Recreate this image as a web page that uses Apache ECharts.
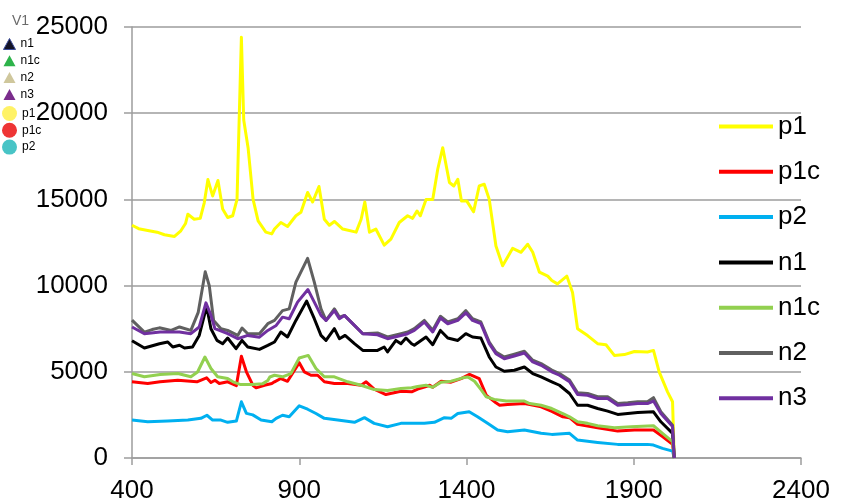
<!DOCTYPE html>
<html>
<head>
<meta charset="utf-8">
<script src="https://cdn.jsdelivr.net/npm/echarts@6/dist/echarts.min.js"></script>
<style>
html,body{margin:0;padding:0;background:#fff;}
#chart{width:842px;height:504px;}
</style>
</head>
<body>
<div id="chart"></div>
<script>
// ---- data (x = wavenumber-like axis, y = intensity) ----
const seriesNames = ['p1', 'p1c', 'p2', 'n1', 'n1c', 'n2', 'n3'];
const seriesColors = ['#FFFF00', '#FF0000', '#00B0F0', '#000000', '#92D050', '#606060', '#7030A0'];
const xTicks = [400, 900, 1400, 1900, 2400];
const yTicks = [0, 5000, 10000, 15000, 20000, 25000];

const p1 = [[400,13500],[420,13300],[447,13200],[475,13100],[497,12950],[527,12850],[546,13180],[560,13600],[567,14140],[586,13850],[604,13900],[616,14800],[627,16150],[641,15200],[657,16100],[671,14450],[686,13950],[701,14050],[714,15000],[727,24400],[734,19600],[747,18000],[762,15000],[777,13750],[800,13100],[818,13000],[826,13280],[845,13660],[865,13430],[890,14050],[905,14250],[925,15400],[940,14850],[959,15750],[975,13850],[990,13500],[1005,13720],[1030,13280],[1070,13100],[1085,13850],[1096,14850],[1110,13100],[1129,13280],[1154,12350],[1174,12700],[1199,13660],[1224,14050],[1239,13900],[1252,14330],[1262,14050],[1279,15000],[1299,15000],[1314,16750],[1329,18000],[1349,15980],[1362,15780],[1374,16170],[1385,14900],[1401,14900],[1421,14280],[1438,15780],[1453,15880],[1468,15000],[1488,12300],[1508,11150],[1538,12160],[1563,11930],[1583,12400],[1598,11930],[1618,10780],[1643,10550],[1655,10300],[1672,10100],[1700,10550],[1717,9600],[1732,7500],[1762,7100],[1792,6630],[1817,6570],[1842,5950],[1872,6000],[1902,6180],[1941,6150],[1959,6240],[1976,5000],[2001,3840],[2016,3260],[2021,0]];

const p1c = [[400,4420],[447,4320],[484,4420],[537,4510],[594,4420],[623,4650],[636,4380],[648,4510],[661,4320],[686,4420],[712,4200],[727,5900],[742,5000],[762,4200],[771,4070],[796,4220],[818,4320],[826,4420],[845,4610],[865,4450],[900,5530],[915,5000],[935,4800],[955,4800],[975,4420],[1005,4320],[1045,4320],[1085,4220],[1100,4420],[1124,3990],[1159,3680],[1204,3870],[1236,3840],[1254,4000],[1279,4150],[1290,4220],[1299,4100],[1324,4450],[1354,4400],[1384,4600],[1409,4850],[1438,4600],[1459,3650],[1488,3200],[1499,3060],[1523,3100],[1573,3160],[1589,3100],[1623,2970],[1655,2700],[1688,2390],[1708,2340],[1732,1950],[1792,1760],[1852,1560],[1902,1620],[1959,1620],[1986,1240],[2016,790],[2021,0]];

const p2 = [[400,2200],[447,2100],[507,2140],[567,2200],[606,2300],[624,2480],[641,2200],[666,2200],[686,2070],[712,2140],[727,3260],[742,2590],[761,2500],[786,2200],[818,2100],[831,2300],[850,2480],[870,2390],[900,3030],[925,2830],[950,2580],[975,2300],[1015,2200],[1065,2070],[1095,2340],[1124,2010],[1164,1815],[1204,2010],[1224,2010],[1274,2010],[1304,2070],[1334,2340],[1354,2300],[1374,2580],[1408,2680],[1433,2390],[1463,2010],[1493,1620],[1523,1520],[1573,1620],[1623,1430],[1655,1370],[1708,1430],[1732,1040],[1792,905],[1852,790],[1941,790],[1959,750],[1986,560],[2016,400],[2021,0]];

const n1 = [[400,6800],[437,6380],[482,6630],[507,6730],[522,6440],[542,6540],[557,6380],[581,6440],[601,7110],[623,8800],[636,7500],[654,6820],[671,6630],[686,6960],[711,6340],[729,6820],[746,6440],[781,6300],[806,6530],[826,6730],[845,7310],[865,7020],[890,7980],[922,9100],[945,8080],[965,7110],[980,6820],[1005,7500],[1020,6920],[1037,7110],[1065,6630],[1090,6240],[1134,6240],[1154,6440],[1164,6150],[1189,6820],[1204,6630],[1219,6960],[1236,6630],[1244,6540],[1279,7020],[1299,6570],[1322,7400],[1344,6960],[1374,6820],[1398,7210],[1418,7020],[1443,6960],[1468,5860],[1488,5280],[1513,5030],[1543,5090],[1573,5280],[1598,4900],[1623,4700],[1655,4420],[1678,4220],[1708,3740],[1732,3060],[1762,3060],[1792,2870],[1822,2720],[1852,2530],[1882,2580],[1912,2640],[1959,2680],[1981,2100],[2016,1430],[2021,0]];

const n1c = [[400,4900],[437,4710],[484,4840],[537,4900],[576,4710],[596,4990],[618,5860],[636,5190],[656,4710],[686,4610],[702,4420],[725,4260],[760,4260],[790,4300],[806,4500],[812,4700],[826,4800],[850,4710],[875,4900],[900,5800],[927,5950],[950,5190],[975,4710],[1005,4710],[1045,4420],[1085,4220],[1124,3970],[1164,3910],[1204,4030],[1236,4070],[1254,4150],[1279,4220],[1299,4100],[1324,4400],[1354,4450],[1389,4650],[1404,4700],[1424,4450],[1444,3950],[1459,3550],[1483,3400],[1519,3300],[1573,3300],[1589,3160],[1623,3060],[1655,2870],[1688,2580],[1708,2390],[1732,2100],[1762,2010],[1792,1870],[1842,1760],[1892,1815],[1959,1870],[1986,1430],[2016,950],[2021,0]];

const n2 = [[400,8000],[437,7300],[460,7450],[482,7550],[517,7400],[542,7600],[576,7400],[598,8450],[619,10800],[631,10000],[644,7980],[666,7500],[686,7400],[716,7110],[729,7540],[746,7210],[781,7210],[806,7790],[826,7980],[850,8550],[870,8650],[890,10200],[925,11580],[945,10200],[965,8650],[980,7980],[1005,8650],[1020,8170],[1035,8270],[1065,7690],[1090,7210],[1134,7250],[1164,7020],[1204,7210],[1224,7310],[1244,7500],[1274,7980],[1299,7410],[1322,8220],[1344,7890],[1374,8080],[1398,8550],[1418,8080],[1443,7890],[1468,6730],[1488,6150],[1513,5860],[1543,6020],[1573,6190],[1598,5670],[1623,5480],[1655,5100],[1678,4900],[1708,4520],[1732,3780],[1762,3740],[1792,3550],[1822,3550],[1852,3160],[1882,3200],[1912,3260],[1941,3260],[1959,3500],[1981,2680],[2016,1900],[2021,0]];

const n3 = [[400,7600],[437,7210],[484,7310],[542,7310],[576,7210],[601,7600],[621,9000],[636,8270],[648,7500],[686,7210],[716,6920],[746,7110],[781,7010],[806,7400],[831,7690],[850,8170],[870,8080],[895,9040],[926,9770],[945,9040],[965,8270],[980,7980],[1005,8550],[1020,8080],[1035,8270],[1065,7690],[1090,7210],[1134,7150],[1164,6920],[1204,7110],[1224,7210],[1244,7400],[1274,7880],[1299,7310],[1322,8120],[1344,7790],[1374,7980],[1398,8420],[1418,7980],[1443,7790],[1468,6630],[1488,6050],[1513,5760],[1543,5920],[1573,6090],[1598,5570],[1623,5380],[1655,5000],[1678,4800],[1708,4420],[1732,3680],[1762,3640],[1792,3450],[1822,3450],[1852,3060],[1882,3100],[1912,3160],[1941,3160],[1959,3300],[1981,2580],[2016,1820],[2021,0]];

const seriesData = [p1, p1c, p2, n1, n1c, n2, n3];

// small marker legend (top-left)
const markerTitle = 'V1';
const triangleItems = ['n1', 'n1c', 'n2', 'n3'];
const triangleColors = ['#141428', '#2DB34A', '#CFC79C', '#7A2C8C'];
const circleItems = ['p1', 'p1c', 'p2'];
const circleColors = ['#FFF266', '#EE3535', '#48C4C6'];

const FONT = '"Liberation Sans", Arial, sans-serif';
const gridColor = '#9d9d9d';

const chart = echarts.init(document.getElementById('chart'), null, {renderer: 'canvas'});

const option = {
  animation: false,
  backgroundColor: '#ffffff',
  title: {
    text: markerTitle,
    left: 7, top: 9,
    textStyle: {fontSize: 14, fontWeight: 'normal', color: '#6a6a6a', fontFamily: FONT}
  },
  grid: {left: 132, right: 41, top: 27, bottom: 44, containLabel: false},
  xAxis: {
    type: 'value', min: 400, max: 2400,
    axisLine: {show: true, lineStyle: {color: gridColor, width: 1.5}},
    axisTick: {show: true, length: 7, customValues: xTicks, lineStyle: {color: gridColor, width: 1.5}},
    axisLabel: {customValues: xTicks, fontSize: 26, color: '#000', fontFamily: FONT, margin: 20,
      formatter: v => String(v)},
    splitLine: {show: false}
  },
  yAxis: {
    type: 'value', min: yTicks[0], max: yTicks[yTicks.length - 1], interval: yTicks[1] - yTicks[0],
    axisLine: {show: true, lineStyle: {color: gridColor, width: 1.5}},
    axisTick: {show: true, length: 8, lineStyle: {color: gridColor, width: 1.5}},
    axisLabel: {fontSize: 26, color: '#000', fontFamily: FONT, margin: 24, formatter: v => String(v)},
    splitLine: {show: true, lineStyle: {color: gridColor, width: 1.5}}
  },
  legend: [
    {
      orient: 'vertical', left: 714, top: 108.5,
      itemWidth: 54, itemHeight: 4, itemGap: 19.3, icon: 'rect',
      selectedMode: false,
      textStyle: {fontSize: 26, color: '#000', fontFamily: FONT, padding: [0, 0, 0, 0]},
      data: seriesNames
    },
    {
      orient: 'vertical', left: -2, top: 33,
      itemWidth: 12, itemHeight: 11, itemGap: 4.8, icon: 'triangle',
      selectedMode: false,
      textStyle: {fontSize: 12, color: '#000', fontFamily: FONT},
      data: triangleItems.map((n, i) => ({name: n, icon: 'triangle',
        itemStyle: {color: triangleColors[i], borderColor: i === 0 ? '#3B4C9A' : triangleColors[i], borderWidth: i === 0 ? 1 : 0}}))
    },
    {
      orient: 'vertical', left: -3, top: 101,
      itemWidth: 15, itemHeight: 15, itemGap: 1.8, icon: 'circle',
      selectedMode: false,
      textStyle: {fontSize: 12, color: '#000', fontFamily: FONT},
      data: circleItems.map((n, i) => ({name: n, icon: 'circle', itemStyle: {color: circleColors[i], borderWidth: 0}}))
    }
  ],
  series: seriesNames.map((name, i) => ({
    name: name,
    type: 'line',
    data: seriesData[i],
    symbol: 'none',
    showSymbol: false,
    color: seriesColors[i],
    lineStyle: {color: seriesColors[i], width: 3, join: 'round'},
    itemStyle: {color: seriesColors[i]},
    z: 2 + i
  }))
};
chart.setOption(option);
</script>
</body>
</html>
